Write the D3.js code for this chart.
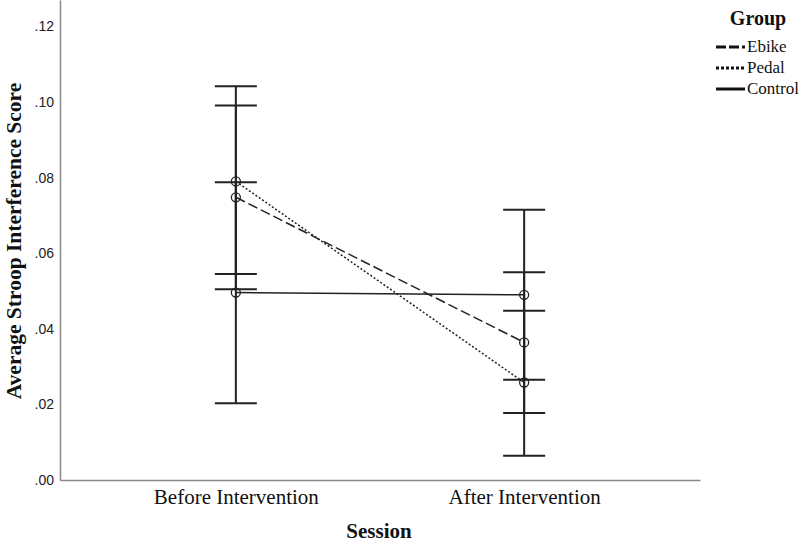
<!DOCTYPE html>
<html><head><meta charset="utf-8">
<script src="https://cdn.jsdelivr.net/npm/d3@7"></script>
<style>body{margin:0;background:#fff}svg{display:block}</style>
</head><body>
<svg id="c" width="800" height="543"></svg>
<script>
const sessions = ["Before Intervention", "After Intervention"];
const groups = ["Ebike", "Pedal", "Control"];
const means = {Ebike: [0.0748, 0.0364], Pedal: [0.0790, 0.0258], Control: [0.0496, 0.0490]};
const ciLow = {Ebike: [0.0505, 0.0177], Pedal: [0.0545, 0.0064], Control: [0.0203, 0.0265]};
const ciHigh = {Ebike: [0.0991, 0.0550], Pedal: [0.1042, 0.0448], Control: [0.0788, 0.0715]};
const yTicks = [0, 0.02, 0.04, 0.06, 0.08, 0.10, 0.12];
const dashes = {Ebike: "10,4", Pedal: "2,2", Control: null};
const legendDashes = {Ebike: "10,3", Pedal: "3,2", Control: null};

const svg = d3.select("#c");
const x = d3.scalePoint().domain(sessions).range([60, 700]).padding(0.61);
const y = d3.scaleLinear().domain([0, 0.127]).range([480, 0]);
const serif = "'Liberation Serif','Times New Roman',serif";
const col = "#222";

// axes
const yAxis = svg.append("g").attr("transform", "translate(60,0)")
  .call(d3.axisLeft(y).tickValues(yTicks).tickSize(0).tickPadding(6)
    .tickFormat(d => d3.format(".2f")(d).replace(/^0/, "")));
yAxis.select(".domain").attr("stroke", "#888").attr("stroke-width", 1.5);
yAxis.selectAll("text").attr("font-family", "'Liberation Sans Narrow','Liberation Sans',Arial,sans-serif")
  .attr("font-size", 14).attr("fill", "#222");

const xAxis = svg.append("g").attr("transform", "translate(0,480)")
  .call(d3.axisBottom(x).tickSize(0).tickPadding(9));
xAxis.select(".domain").attr("stroke", "#888").attr("stroke-width", 1.5);
xAxis.selectAll("text").attr("font-family", serif).attr("font-size", 21).attr("fill", "#111");

// axis titles
svg.append("text").attr("transform", "translate(21,241) rotate(-90)")
  .attr("text-anchor", "middle").attr("font-family", serif).attr("font-weight", "bold")
  .attr("font-size", 21.5).attr("fill", "#111").text("Average Stroop Interference Score");
svg.append("text").attr("x", 379).attr("y", 538).attr("text-anchor", "middle")
  .attr("font-family", serif).attr("font-weight", "bold").attr("font-size", 21)
  .attr("fill", "#111").text("Session");

// error bars
const capW = 21;
groups.forEach(g => {
  sessions.forEach((s, i) => {
    const cx = x(s);
    const eb = svg.append("g").attr("stroke", col).attr("stroke-width", 2);
    eb.append("line").attr("x1", cx).attr("x2", cx).attr("y1", y(ciLow[g][i])).attr("y2", y(ciHigh[g][i]));
    [ciLow[g][i], ciHigh[g][i]].forEach(v => {
      eb.append("line").attr("x1", cx - capW).attr("x2", cx + capW).attr("y1", y(v)).attr("y2", y(v));
    });
  });
});

// lines
const line = d3.line().x((d, i) => x(sessions[i])).y(d => y(d));
groups.forEach(g => {
  svg.append("path").datum(means[g]).attr("d", line).attr("fill", "none")
    .attr("stroke", col).attr("stroke-width", 1.5)
    .attr("stroke-dasharray", dashes[g]);
  svg.selectAll(null).data(means[g]).enter().append("circle")
    .attr("cx", (d, i) => x(sessions[i])).attr("cy", d => y(d)).attr("r", 4.5)
    .attr("fill", "none").attr("stroke", col).attr("stroke-width", 1.3);
});

// legend
svg.append("text").attr("x", 758).attr("y", 25).attr("text-anchor", "middle")
  .attr("font-family", serif).attr("font-weight", "bold").attr("font-size", 20)
  .attr("fill", "#111").text("Group");
const ly = d3.scalePoint().domain(groups).range([47, 89]);
groups.forEach(g => {
  svg.append("line").attr("x1", 716).attr("x2", 745).attr("y1", ly(g)).attr("y2", ly(g))
    .attr("stroke", "#111").attr("stroke-width", 3).attr("stroke-dasharray", legendDashes[g]);
  svg.append("text").attr("x", 747).attr("y", ly(g) + 5).attr("font-family", serif)
    .attr("font-size", 17).attr("fill", "#111").text(g);
});
</script>
</body></html>
